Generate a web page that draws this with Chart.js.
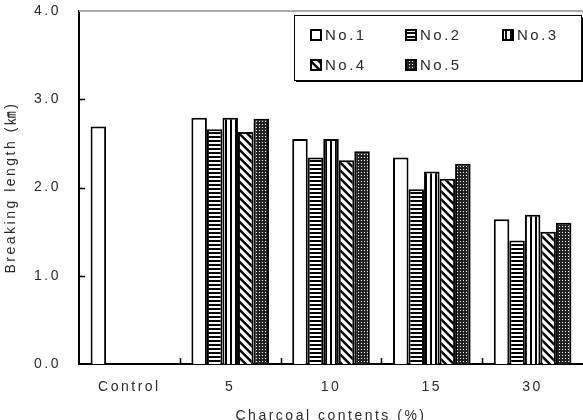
<!DOCTYPE html>
<html>
<head>
<meta charset="utf-8">
<script src="https://cdn.jsdelivr.net/npm/chart.js@4.4.1/dist/chart.umd.min.js"></script>
<style>
  html, body { margin: 0; padding: 0; background: #fff; }
  canvas { display: block; }
</style>
</head>
<body>
<canvas id="strength-chart" width="583" height="420"></canvas>
<script>
const categories = ['Control', '5', '10', '15', '30'];
const seriesNames = ['No.1', 'No.2', 'No.3', 'No.4', 'No.5'];
const no1 = [2.69, 2.79, 2.55, 2.34, 1.64];
const no2 = [null, 2.66, 2.34, 1.98, 1.40];
const no3 = [null, 2.79, 2.55, 2.18, 1.69];
const no4 = [null, 2.63, 2.31, 2.10, 1.50];
const no5 = [null, 2.78, 2.41, 2.27, 1.60];
const yTicks = [0, 1, 2, 3, 4];

const FONT = 'Arial, "Liberation Sans", "Noto Sans CJK KR", sans-serif';
const TEXT = '#2a2a2a';

// small canvases used as fill patterns for the bars
function makePattern(w, h, paint) {
  const c = document.createElement('canvas');
  c.width = w;
  c.height = h;
  const g = c.getContext('2d');
  g.fillStyle = '#fff';
  g.fillRect(0, 0, w, h);
  g.fillStyle = '#000';
  paint(g);
  return document.createElement('canvas').getContext('2d').createPattern(c, 'repeat');
}

const fills = [
  '#ffffff',
  makePattern(4, 4, g => g.fillRect(0, 0, 4, 2)),
  makePattern(5, 4, g => g.fillRect(0, 0, 2, 4)),
  makePattern(8, 8, g => {
    g.beginPath();
    for (let k = -8; k <= 16; k += 8) {
      g.moveTo(k, 0);
      g.lineTo(k + 3.5, 0);
      g.lineTo(k + 3.5 + 8, 8);
      g.lineTo(k + 8, 8);
      g.closePath();
    }
    g.fill();
  }),
  makePattern(3, 3, g => {
    g.fillStyle = '#222';
    g.fillRect(0, 0, 3, 3);
    g.fillStyle = '#fff';
    g.fillRect(1, 1, 1, 1);
  })
];

const seriesData = [no1, no2, no3, no4, no5];

const decorations = {
  id: 'decorations',
  beforeUpdate(chart) {
    chart.ctx.letterSpacing = '2.5px';
  },
  beforeDraw(chart) {
    chart.ctx.letterSpacing = '2.5px';
  },
  afterDraw(chart) {
    const ctx = chart.ctx;
    const area = chart.chartArea;
    const x = chart.scales.x;
    const y = chart.scales.y;
    ctx.save();

    // grey frame line on top
    ctx.strokeStyle = '#aaa';
    ctx.lineWidth = 2;
    ctx.beginPath();
    ctx.moveTo(area.left, area.top);
    ctx.lineTo(area.right, area.top);
    ctx.stroke();

    // inward tick marks
    ctx.strokeStyle = '#000';
    ctx.lineWidth = 1.5;
    ctx.beginPath();
    for (const v of [1, 2, 3]) {
      const py = Math.round(y.getPixelForValue(v)) + 0.5;
      ctx.moveTo(area.left, py);
      ctx.lineTo(area.left + 6, py);
    }
    for (let i = 1; i < categories.length; i++) {
      const px = Math.round((x.getPixelForValue(i - 1) + x.getPixelForValue(i)) / 2) + 0.5;
      ctx.moveTo(px, area.bottom);
      ctx.lineTo(px, area.bottom - 6);
    }
    ctx.stroke();

    // legend box with shadow
    const bx = 294, by = 15, bw = 287, bh = 65;
    ctx.fillStyle = '#000';
    ctx.fillRect(bx + 2, by + 2, bw, bh);
    ctx.fillStyle = '#fff';
    ctx.fillRect(bx, by, bw, bh);
    ctx.strokeStyle = '#000';
    ctx.lineWidth = 1;
    ctx.strokeRect(bx + 0.5, by + 0.5, bw, bh);

    const slots = [[310, 35], [405, 35], [502, 35], [310, 65], [405, 65]];
    ctx.font = '15px ' + FONT;
    ctx.textBaseline = 'middle';
    ctx.textAlign = 'left';
    ctx.letterSpacing = '2.5px';
    seriesNames.forEach((name, i) => {
      const [sx, sy] = slots[i];
      ctx.fillStyle = fills[i];
      ctx.fillRect(sx, sy - 6, 12, 12);
      ctx.strokeStyle = '#000';
      ctx.lineWidth = 2;
      ctx.strokeRect(sx + 1, sy - 5, 10, 10);
      ctx.fillStyle = TEXT;
      ctx.fillText(name, sx + 15, sy + 1);
    });
    ctx.restore();
  }
};

new Chart(document.getElementById('strength-chart'), {
  type: 'bar',
  data: {
    labels: categories,
    datasets: seriesData.map((values, i) => ({
      label: seriesNames[i],
      data: values,
      backgroundColor: fills[i],
      borderColor: '#000',
      borderWidth: 2,
      categoryPercentage: 0.77,
      barPercentage: 1.0
    }))
  },
  options: {
    responsive: false,
    animation: false,
    layout: { padding: { top: 11, left: 0, right: 0, bottom: 0 } },
    plugins: {
      legend: { display: false },
      tooltip: { enabled: false }
    },
    scales: {
      x: {
        grid: { display: false, drawTicks: false },
        border: { display: true, color: '#000', width: 2 },
        ticks: {
          color: TEXT,
          font: { family: FONT, size: 14 },
          padding: 15,
          maxRotation: 0
        },
        title: {
          display: true,
          text: 'Charcoal contents (%)',
          color: TEXT,
          font: { family: FONT, size: 14 },
          padding: { top: 0, bottom: -5 }
        },
        afterFit(scale) {
          scale.height = 56;
          scale.paddingLeft = 0;
          scale.paddingRight = 0;
        }
      },
      y: {
        min: 0,
        max: 4,
        afterBuildTicks(scale) { scale.ticks = yTicks.map(v => ({ value: v })); },
        grid: { display: false, drawTicks: false },
        border: { display: true, color: '#000', width: 2 },
        ticks: {
          color: TEXT,
          font: { family: FONT, size: 14 },
          padding: 18,
          callback: v => v.toFixed(1)
        },
        title: {
          display: true,
          text: 'Breaking length (㎞)',
          color: TEXT,
          font: { family: FONT, size: 14 },
          padding: { top: 3, bottom: 0 }
        },
        afterFit(scale) {
          scale.width = 79;
          scale.paddingTop = 0;
          scale.paddingBottom = 0;
        }
      }
    }
  },
  plugins: [decorations]
});
</script>
</body>
</html>
